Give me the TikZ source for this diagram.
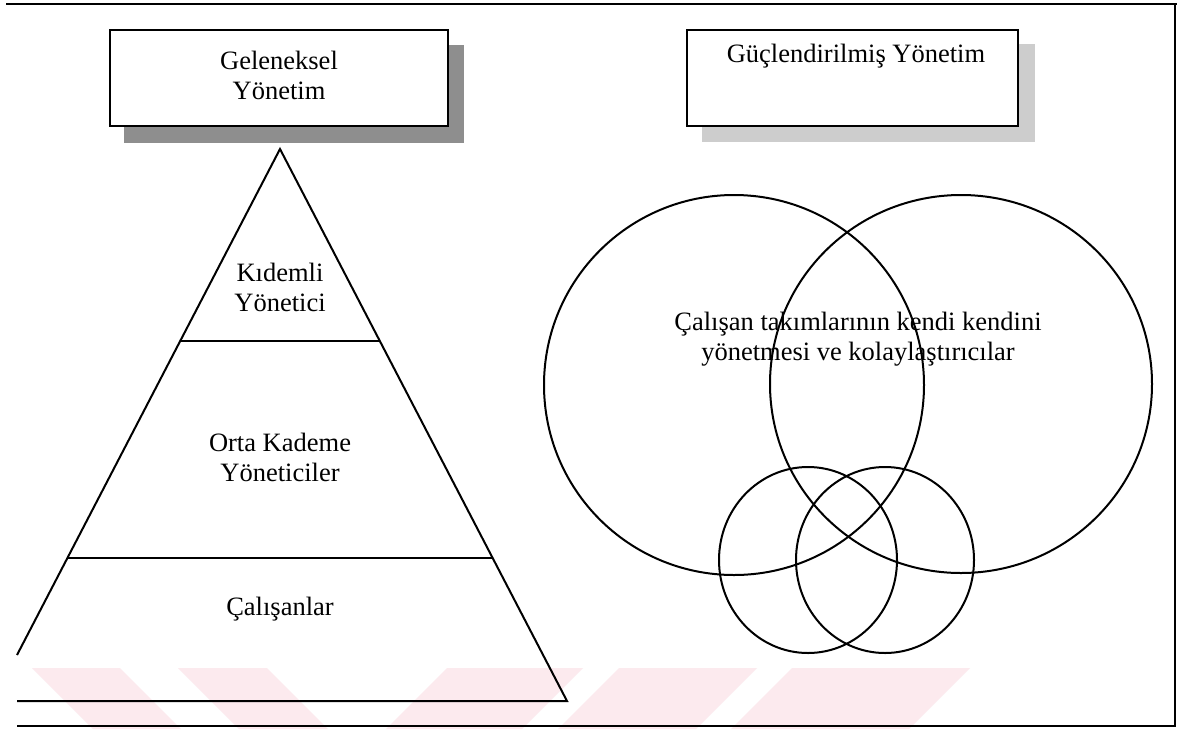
\documentclass[tikz,border=0pt]{standalone}
\usepackage{fontspec}
\setmainfont{Liberation Serif}
\definecolor{shadowdark}{RGB}{142,142,142}
\definecolor{shadowlight}{RGB}{205,205,205}
\definecolor{markpink}{RGB}{252,234,238}
\begin{document}
\begin{tikzpicture}[x=0.5pt,y=-0.5pt,
  outline/.style={draw=black,line width=1pt},
  frameline/.style={draw=black,line width=1.2pt},
  label/.style={font=\fontsize{13.25}{15}\selectfont,align=center,inner sep=0pt},
  headbox/.style={outline,fill=white,inner sep=0pt,minimum height=48pt}]
\useasboundingbox (0,0) rectangle (1183,729);
\fill[white] (0,0) rectangle (1183,729);

% faint diagonal bands along the bottom edge
\fill[markpink] (32,668) -- (120,668) -- (181,729) -- (93,729) -- cycle;
\fill[markpink] (178,668) -- (267,668) -- (328,729) -- (239,729) -- cycle;
\fill[markpink] (447,668) -- (583,668) -- (522,729) -- (386,729) -- cycle;
\fill[markpink] (619,668) -- (757,668) -- (696,729) -- (558,729) -- cycle;
\fill[markpink] (792,668) -- (970,668) -- (909,729) -- (731,729) -- cycle;

% outer frame (open on the left)
\coordinate (ftl) at (6,4);
\coordinate (ftr) at (1177,4);
\coordinate (fcorner) at (1175,4);
\coordinate (fbr) at (1175,726);
\coordinate (fbl) at (17,726);
\draw[frameline] (ftl) -- (ftr);
\draw[frameline] (fcorner) -- (fbr) -- (fbl);

% heading boxes with drop shadows
\node[headbox,minimum width=169pt] (tradbox) at (279,77.5) {};
\fill[shadowdark] ([shift={(15,16)}]tradbox.south west) rectangle ([shift={(15,16)}]tradbox.north east);
\node[headbox,minimum width=169pt] at (tradbox) {};
\node[label] (tradtitle) at (279,75) {Geleneksel\\Yönetim};

\node[headbox,minimum width=165.5pt] (empbox) at (852.5,77.5) {};
\fill[shadowlight] ([shift={(16,15)}]empbox.south west) rectangle ([shift={(16,15)}]empbox.north east);
\node[headbox,minimum width=165.5pt] at (empbox) {};
\node[label] (emptitle) at (856,56) {Güçlendirilmiş Yönetim};

% pyramid of the traditional hierarchy
\coordinate (apex) at (280,149);
\coordinate (leftcut) at (17,655);
\coordinate (baseleft) at (17,701);
\coordinate (baseright) at (567,701);
\draw[outline,line join=miter] (leftcut) -- (apex) -- (baseright) -- (baseleft);
\coordinate (l1a) at (180,341);
\coordinate (l1b) at (380,341);
\coordinate (l2a) at (67,558);
\coordinate (l2b) at (493,558);
\draw[outline] (l1a) -- (l1b);
\draw[outline] (l2a) -- (l2b);

\node[label] (senior) at (280,287) {Kıdemli\\Yönetici};
\node[label] (middle) at (280,457) {Orta Kademe\\Yöneticiler};
\node[label] (staff) at (280,609) {Çalışanlar};

% overlapping circles of the empowered model
\draw[outline] (734,385) ellipse [x radius=190,y radius=190];
\draw[outline] (961,384) ellipse [x radius=191,y radius=189];
\draw[outline] (808,560) ellipse [x radius=89,y radius=93];
\draw[outline] (885,560) ellipse [x radius=89,y radius=93];

\node[label] (teams) at (858,339) {Çalışan takımlarının kendi kendini\\yönetmesi ve kolaylaştırıcılar};
\end{tikzpicture}
\end{document}
